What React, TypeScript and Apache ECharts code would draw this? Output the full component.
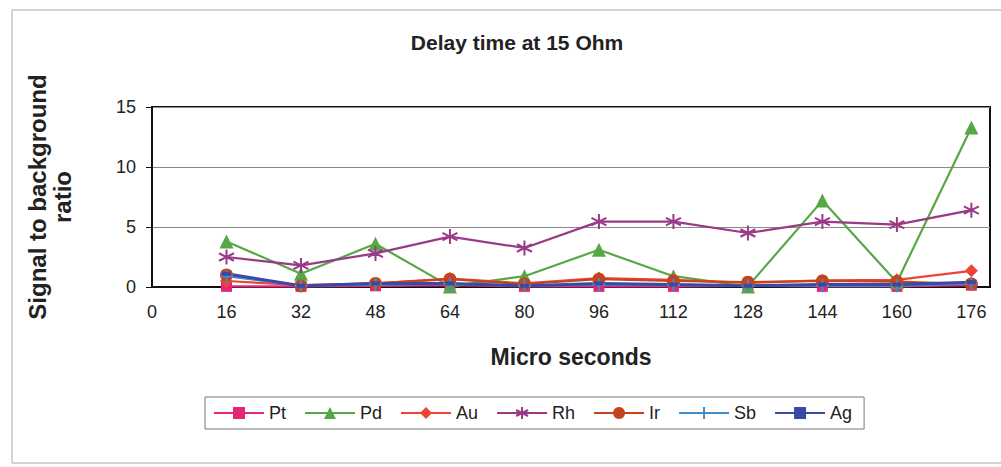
import React, { useEffect, useRef } from "react";
import * as echarts from "echarts";

const times = [16, 32, 48, 64, 80, 96, 112, 128, 144, 160, 176];
const xTicks = [0, 16, 32, 48, 64, 80, 96, 112, 128, 144, 160, 176];
const yTicks = [0, 5, 10, 15];

const ptValues = [0.05, 0.05, 0.1, 0.15, 0.05, 0.05, 0.05, 0.1, 0.05, 0.05, 0.15];
const pdValues = [3.8, 1.1, 3.6, 0.05, 0.9, 3.1, 0.9, 0.05, 7.2, 0.4, 13.3];
const auValues = [0.5, 0.15, 0.3, 0.7, 0.3, 0.75, 0.6, 0.35, 0.55, 0.6, 1.35];
const rhValues = [2.5, 1.8, 2.8, 4.2, 3.25, 5.45, 5.45, 4.5, 5.45, 5.2, 6.4];
const irValues = [1.0, 0.1, 0.3, 0.65, 0.25, 0.65, 0.5, 0.4, 0.5, 0.45, 0.25];
const sbValues = [0.9, 0.1, 0.2, 0.25, 0.1, 0.2, 0.15, 0.1, 0.1, 0.1, 0.3];
const agValues = [1.1, 0.1, 0.3, 0.3, 0.1, 0.3, 0.2, 0.1, 0.2, 0.2, 0.4];

const FONT = "'Liberation Sans', Arial, Helvetica, sans-serif";

const ASTERISK = "path://M5,0 L5,10 M0.7,2.5 L9.3,7.5 M9.3,2.5 L0.7,7.5";
const PLUS = "path://M5,0 L5,10 M0,5 L10,5";

type SeriesDef = {
  name: string;
  values: number[];
  color: string;
  symbol: string;
  symbolSize: number | number[];
  lineWidth: number;
  stroke?: boolean;
};

const seriesDefs: SeriesDef[] = [
  { name: "Pt", values: ptValues, color: "#E2277A", symbol: "rect", symbolSize: 11, lineWidth: 2.2 },
  { name: "Pd", values: pdValues, color: "#56A847", symbol: "triangle", symbolSize: 14, lineWidth: 2.2 },
  { name: "Au", values: auValues, color: "#EE4436", symbol: "diamond", symbolSize: 13, lineWidth: 2.2 },
  { name: "Rh", values: rhValues, color: "#9A3A86", symbol: ASTERISK, symbolSize: 15, lineWidth: 2.2, stroke: true },
  { name: "Ir", values: irValues, color: "#C4441C", symbol: "circle", symbolSize: 13, lineWidth: 2.2 },
  { name: "Sb", values: sbValues, color: "#3C8ECF", symbol: PLUS, symbolSize: 13, lineWidth: 2.2, stroke: true },
  { name: "Ag", values: agValues, color: "#3A48A6", symbol: "rect", symbolSize: [9, 4], lineWidth: 3 },
];

export default function App() {
  const ref = useRef<HTMLDivElement>(null);

  useEffect(() => {
    if (!ref.current) return;
    const chart = echarts.init(ref.current, null, { renderer: "svg" });

    const series = seriesDefs.map((d) => ({
      name: d.name,
      type: "line",
      data: times.map((t, i) => [t, d.values[i]]),
      symbol: d.symbol,
      symbolSize: d.symbolSize,
      showAllSymbol: true,
      lineStyle: { color: d.color, width: d.lineWidth },
      itemStyle: d.stroke
        ? { color: d.color, borderColor: d.color, borderWidth: 2 }
        : { color: d.color, borderColor: d.color, borderWidth: 0 },
    }));

    chart.setOption({
      animation: false,
      backgroundColor: "#ffffff",
      textStyle: { fontFamily: FONT },
      title: {
        text: "Delay time at 15 Ohm",
        left: 512,
        top: 27,
        textAlign: "center",
        textStyle: { fontFamily: FONT, fontSize: 21, fontWeight: "bold", color: "#222" },
      },
      graphic: [
        {
          type: "rect",
          shape: { x: 12, y: 10, width: 1000, height: 453 },
          style: { fill: "none", stroke: "#aaaaaa", lineWidth: 1 },
          silent: true,
        },
      ],
      legend: {
        left: 205,
        top: 397,
        itemWidth: 50,
        itemHeight: 15,
        itemGap: 18,
        padding: [7, 12, 7, 8],
        borderColor: "#777",
        borderWidth: 1,
        textStyle: { fontFamily: FONT, fontSize: 18, color: "#222" },
        data: seriesDefs.map((d) => d.name),
      },
      grid: {
        left: 152,
        top: 107,
        right: 11,
        bottom: 180,
        show: true,
        borderColor: "#111",
        borderWidth: 2,
        containLabel: false,
      },
      xAxis: {
        type: "value",
        min: 0,
        max: 180,
        interval: 16,
        name: "Micro seconds",
        nameLocation: "middle",
        nameGap: 58,
        nameTextStyle: { fontFamily: FONT, fontSize: 23, fontWeight: "bold", color: "#222" },
        axisLine: { show: true, lineStyle: { color: "#111", width: 2 } },
        axisTick: { show: false },
        splitLine: { show: false },
        axisLabel: {
          fontFamily: FONT,
          fontSize: 18,
          color: "#222",
          margin: 16,
          showMaxLabel: false,
          formatter: (v: number) => (xTicks.includes(v) ? String(v) : ""),
        },
      },
      yAxis: {
        type: "value",
        min: 0,
        max: 15,
        interval: 5,
        name: "Signal to background\nratio",
        nameLocation: "middle",
        nameRotate: 90,
        nameGap: 77,
        nameTextStyle: {
          fontFamily: FONT,
          fontSize: 24,
          fontWeight: "bold",
          color: "#222",
          lineHeight: 25,
        },
        axisLine: { show: true, lineStyle: { color: "#111", width: 2 } },
        axisTick: { show: true, inside: false, length: 6, lineStyle: { color: "#111" } },
        splitLine: { show: true, lineStyle: { color: "#8a8a8a", width: 1 } },
        axisLabel: {
          fontFamily: FONT,
          fontSize: 18,
          color: "#222",
          margin: 16,
          formatter: (v: number) => (yTicks.includes(v) ? String(v) : ""),
        },
      },
      series,
    });

    return () => chart.dispose();
  }, []);

  return (
    <div
      ref={ref}
      style={{ position: "absolute", left: 0, top: 0, width: 1001, height: 467, background: "#fff" }}
    />
  );
}
